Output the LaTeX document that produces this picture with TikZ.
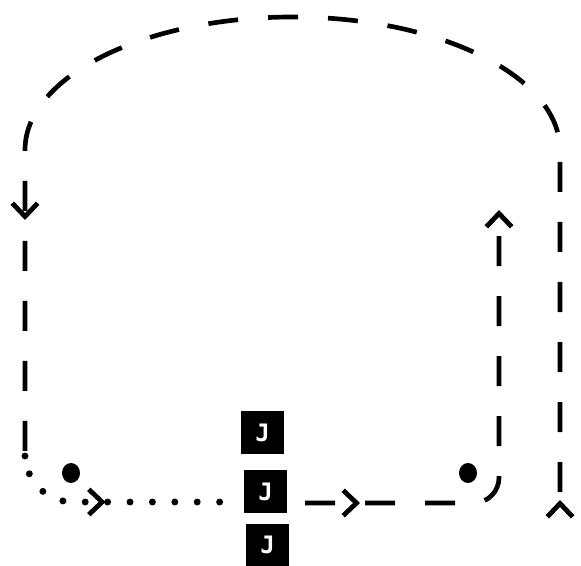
\documentclass[tikz,border=0pt]{standalone}
\usepackage{fontspec}
\newfontfamily\jfont{DejaVu Sans Mono}
\usetikzlibrary{arrows.meta,decorations.markings}

\tikzset{
    dashline/.style={line width=3.5pt, dash pattern=on 22.5pt off 22.5pt},
    dotline/.style={line width=5.2pt, line cap=round, dash pattern=on 0pt off 16.8pt},
    jbox/.style={fill=black, text=white, minimum size=32.25pt, inner sep=0pt,
        font=\jfont\bfseries\fontsize{18}{20}\selectfont},
}

\begin{document}
\begin{tikzpicture}[x=0.75pt,y=0.75pt,yscale=-1,xscale=1,
    >={Straight Barb[length=10pt,width=19pt,line width=3.6pt]}]
    \useasboundingbox (0,0) rectangle (581,566);

    % Boxes
    \node[jbox] (j1) at (262.5,432.5) {J};
    \node[jbox] (j2) at (265.5,491.5) {J};
    \node[jbox] (j3) at (267.5,545) {J};

    % Path ends
    \coordinate (rb) at (560,513);
    \coordinate (rt) at (560,150);
    \coordinate (lb) at (25,456);
    \coordinate (lc) at (25,502);
    \coordinate (dotend) at (226,502);
    \coordinate (dashstart) at (305,503);
    \coordinate (rc) at (499,503);
    \coordinate (inup) at (499,210);

    % Outer loop
    \draw[dashline, dash phase=29.25pt, postaction={decorate},
        decoration={markings,
            mark=at position 9.75pt with {\arrow{>}},
            mark=at position -177pt with {\arrow{>}}}]
        (rb) -- (rt) arc[start angle=0, end angle=-180, x radius=267.5, y radius=133] -- (lb);

    % Dotted lead-in
    \draw[dotline, rounded corners=36pt, postaction={decorate},
        decoration={markings, mark=at position 82.5pt with {\arrow[line width=3.6pt]{>}}}]
        (lb) -- (lc) -- (dotend);

    % Dashed lead-out
    \draw[dashline, rounded corners=19pt, ->, postaction={decorate},
        decoration={markings, mark=at position 41.25pt with {\arrow{>}}}]
        (dashstart) -- (rc) -- (inup);

    % Dots
    \fill (71,473) ellipse[x radius=9, y radius=10];
    \fill (468,473) ellipse[x radius=9, y radius=10];
\end{tikzpicture}
\end{document}
